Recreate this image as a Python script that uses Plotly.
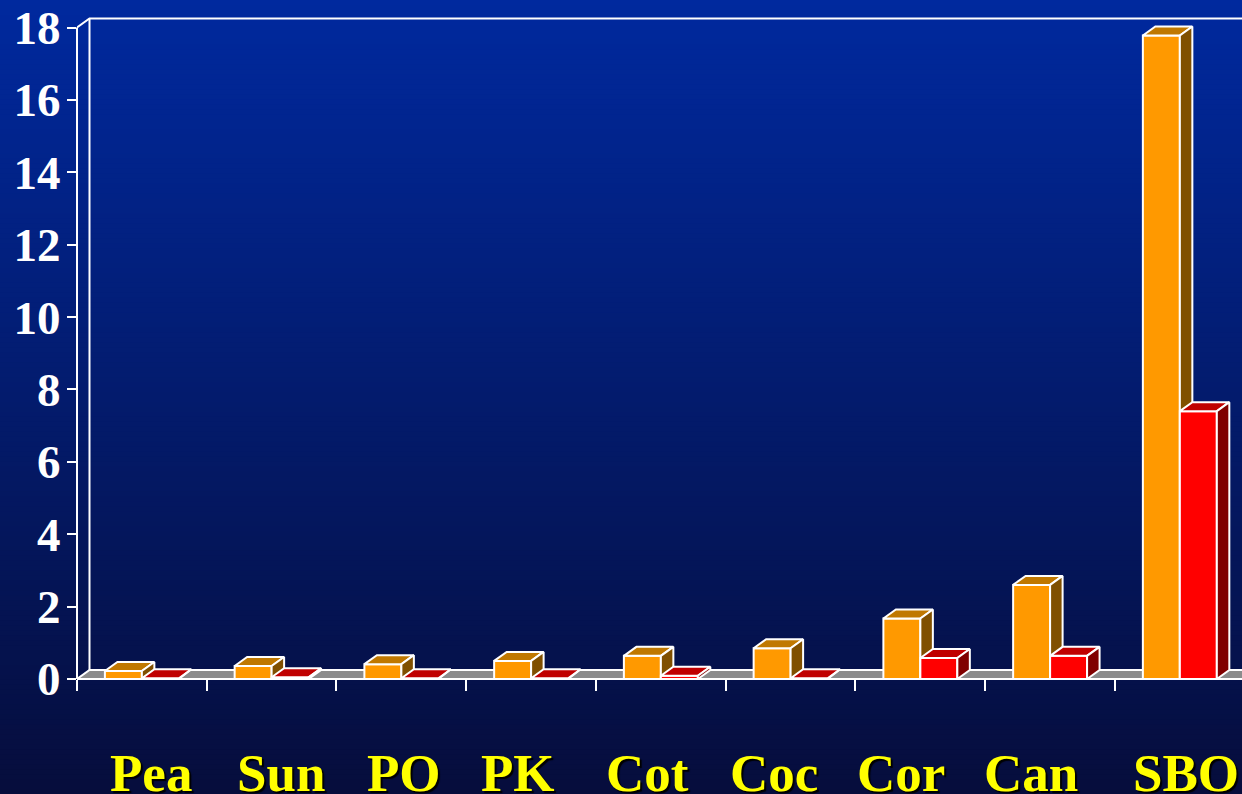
import plotly.graph_objects as go

# ---- data ----
categories = ["Pea", "Sun", "PO", "PK", "Cot", "Coc", "Cor", "Can", "SBO"]
series_a = [0.22, 0.36, 0.41, 0.50, 0.64, 0.85, 1.67, 2.60, 17.78]   # orange
series_b = [0.02, 0.05, 0.02, 0.02, 0.09, 0.02, 0.58, 0.64, 7.40]    # red
y_ticks = [0, 2, 4, 6, 8, 10, 12, 14, 16, 18]
label_shift = [9, 9, 3, -13, -13, -17, -19, -19, 6]

# ---- geometry / style ----
W, H = 1242, 794
ML, MR, MT, MB = 77, 0, 17, 115
X0 = -0.5
XMAX = 8.479
YMAX = 18.29
px_x = (W - ML - MR) / (XMAX - X0)
px_y = (H - MT - MB) / YMAX
DX = 12.5 / px_x
DY = 9.0 / px_y
BW = 0.285

ORANGE = ("#FF9900", "#C07800", "#805000")
RED = ("#FF0000", "#C00000", "#800000")

fig = go.Figure()

# floor
fx_end = XMAX + 0.2
fig.add_trace(go.Scatter(
    x=[X0, fx_end, fx_end, X0 + DX, X0],
    y=[0, 0, DY, DY, 0],
    fill="toself", fillcolor="#8C8C8C", mode="lines",
    line=dict(color="white", width=2), hoverinfo="skip", showlegend=False))

# back wall lines
fig.add_trace(go.Scatter(
    x=[X0, X0 + DX, fx_end, None, X0 + DX, X0 + DX],
    y=[18, 18 + DY, 18 + DY, None, DY, 18 + DY],
    mode="lines", line=dict(color="white", width=2),
    hoverinfo="skip", showlegend=False))


def faces(values, left_off):
    front_x, front_y, top_x, top_y, side_x, side_y = [], [], [], [], [], []
    for i, v in enumerate(values):
        x0 = i + left_off
        x1 = x0 + BW
        front_x += [x0, x1, x1, x0, x0, None]
        front_y += [0, 0, v, v, 0, None]
        top_x += [x0, x1, x1 + DX, x0 + DX, x0, None]
        top_y += [v, v, v + DY, v + DY, v, None]
        side_x += [x1, x1 + DX, x1 + DX, x1, x1, None]
        side_y += [0, DY, v + DY, v, 0, None]
    return (front_x, front_y), (top_x, top_y), (side_x, side_y)


def add_series(values, left_off, cols):
    for (xs, ys), col in zip(faces(values, left_off), cols):
        fig.add_trace(go.Scatter(
            x=xs, y=ys, fill="toself", fillcolor=col, mode="lines",
            line=dict(color="white", width=2), hoverinfo="skip",
            showlegend=False))


add_series(series_a, -BW, ORANGE)
add_series(series_b, 0.0, RED)

# background gradient (strips in paper coordinates)
pw = W - ML - MR
ph = H - MT - MB
top_c = (0, 41, 158)
bot_c = (6, 13, 60)
N = 160
shapes = []
for k in range(N):
    t = k / (N - 1)
    c = tuple(round(top_c[j] + (bot_c[j] - top_c[j]) * t) for j in range(3))
    py0 = k * H / N
    py1 = (k + 1) * H / N + 1
    shapes.append(dict(
        type="rect", xref="paper", yref="paper", layer="below",
        x0=-ML / pw, x1=1 + MR / pw + 0.01,
        y0=1 + (MT - py1) / ph, y1=1 + (MT - py0) / ph,
        fillcolor="rgb(%d,%d,%d)" % c, line=dict(width=0)))

# front axis lines
shapes.append(dict(type="line", xref="paper", yref="y", x0=0, x1=0, y0=0, y1=18,
                   line=dict(color="white", width=2), layer="above"))
shapes.append(dict(type="line", xref="x", yref="paper", x0=X0, x1=fx_end, y0=0, y1=0,
                   line=dict(color="white", width=2), layer="above"))

annotations = []
for i, (lab, sh) in enumerate(zip(categories, label_shift)):
    annotations.append(dict(
        x=i, xref="x", y=-(773 - (H - MB)) / ph, yref="paper",
        text=lab, showarrow=False, xshift=sh, xanchor="center", yanchor="middle",
        font=dict(family="Liberation Serif", size=53, color="#FFFF00",
                  weight="bold", shadow="2px 2px 1px #000000")))

fig.update_layout(
    width=W, height=H,
    margin=dict(l=ML, r=MR, t=MT, b=MB, pad=0),
    paper_bgcolor="rgb(6,13,60)", plot_bgcolor="rgba(0,0,0,0)",
    shapes=shapes, annotations=annotations, showlegend=False,
    xaxis=dict(range=[X0, XMAX], showgrid=False, zeroline=False, showline=False,
               tickmode="array", tickvals=[i - 0.5 for i in range(10)],
               ticks="outside", ticklen=11, tickwidth=2, tickcolor="white",
               showticklabels=False, fixedrange=True),
    yaxis=dict(range=[0, YMAX], showgrid=False, zeroline=False, showline=False,
               tickmode="array", tickvals=y_ticks,
               ticktext=[str(v) for v in y_ticks],
               ticks="outside", ticklen=9, tickwidth=2, tickcolor="white",
               tickfont=dict(family="Liberation Serif", size=47, color="white",
                             weight="bold"),
               ticklabelstandoff=-3, fixedrange=True),
)

fig.write_html(
    "out.html",
    config={"displayModeBar": False},
    post_script="document.body.style.margin='0';document.body.style.overflow='hidden';",
)
